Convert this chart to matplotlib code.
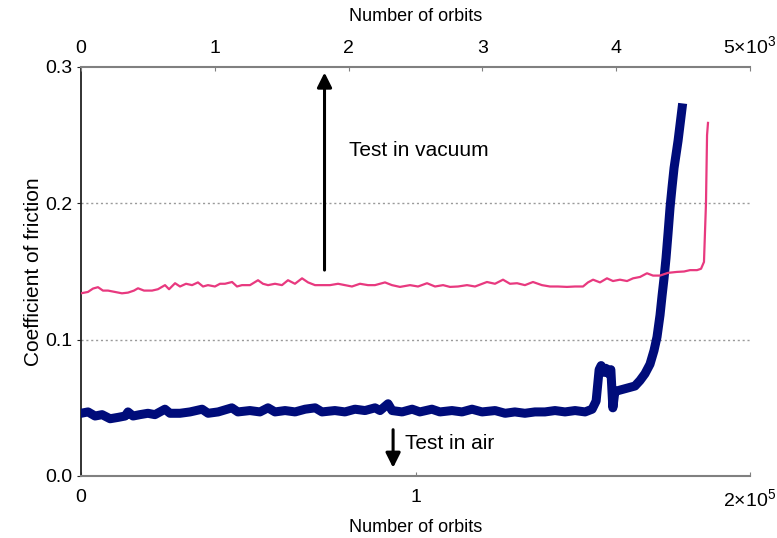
import matplotlib
matplotlib.use("Agg")
import matplotlib.pyplot as plt

plt.rcParams['font.family'] = ['Liberation Sans', 'DejaVu Sans']
plt.rcParams['mathtext.fontset'] = 'custom'
plt.rcParams['mathtext.rm'] = 'Liberation Sans'
plt.rcParams['mathtext.it'] = 'Liberation Sans'

# Test in air (bottom axis: number of orbits)
air_orbits = [0, 2100, 4200, 6300, 8700, 11100, 13200, 14050, 15550, 17600,
              20000, 22100, 25100, 26600, 29600, 32600, 36200, 38000, 41000,
              45100, 46900, 50500, 53500, 55900, 58000, 61000, 64000, 67000,
              70000, 72050, 75900, 78900, 81900, 84900, 87900, 89400, 91800,
              93000, 96000, 99000, 101300, 104900, 107300, 110900, 113900,
              116900, 119900, 123800, 126800, 129700, 132700, 135700, 138700,
              141700, 144700, 147700, 150700, 152800, 154000, 154900, 155500,
              156400, 156900, 157800, 158400, 159000, 159600, 161100, 162600,
              164100, 165600, 167100, 168600, 170100, 171300, 172200, 173100,
              173700, 174300, 174900, 175500, 176100, 176700, 177300, 177900,
              178500, 179100, 179700]
air_cof = [0.046, 0.047, 0.044, 0.045, 0.042, 0.043, 0.044, 0.047, 0.044, 0.045,
           0.046, 0.045, 0.049, 0.046, 0.046, 0.047, 0.049, 0.046, 0.047,
           0.050, 0.047, 0.048, 0.047, 0.050, 0.047, 0.048, 0.047, 0.049,
           0.050, 0.047, 0.048, 0.047, 0.049, 0.048, 0.050, 0.048, 0.053,
           0.048, 0.047, 0.049, 0.047, 0.049, 0.047, 0.048, 0.047,
           0.049, 0.047, 0.048, 0.046, 0.047, 0.046, 0.047, 0.047,
           0.048, 0.047, 0.048, 0.047, 0.049, 0.055, 0.078, 0.081,
           0.076, 0.079, 0.075, 0.078, 0.050, 0.062, 0.063, 0.064,
           0.065, 0.066, 0.070, 0.075, 0.082, 0.092, 0.102, 0.118,
           0.132, 0.145, 0.160, 0.178, 0.197, 0.212, 0.226, 0.236,
           0.246, 0.258, 0.270]

# Test in vacuum (top axis: thousands of orbits)
vac_orbits_k = [0.0, 0.052, 0.090, 0.127, 0.164, 0.202, 0.254, 0.306, 0.351,
                0.396, 0.426, 0.471, 0.531, 0.575, 0.628, 0.658, 0.703, 0.740,
                0.785, 0.830, 0.874, 0.912, 0.949, 1.001, 1.039, 1.076, 1.129,
                1.166, 1.203, 1.263, 1.323, 1.360, 1.398, 1.450, 1.502, 1.547,
                1.599, 1.652, 1.697, 1.749, 1.801, 1.861, 1.921, 1.973, 2.025,
                2.085, 2.145, 2.197, 2.272, 2.324, 2.384, 2.459, 2.519, 2.586,
                2.646, 2.706, 2.758, 2.818, 2.885, 2.945, 3.034, 3.094, 3.154,
                3.206, 3.259, 3.318, 3.378, 3.445, 3.505, 3.565, 3.632, 3.692,
                3.752, 3.789, 3.827, 3.879, 3.931, 3.976, 4.028, 4.081, 4.126,
                4.178, 4.230, 4.275, 4.327, 4.387, 4.454, 4.507, 4.552, 4.604,
                4.634, 4.656, 4.671, 4.679, 4.686]
vac_cof = [0.134, 0.135, 0.1375, 0.1385, 0.136, 0.136, 0.135, 0.134, 0.1345,
           0.136, 0.1377, 0.136, 0.136, 0.137, 0.140, 0.137, 0.1414, 0.139,
           0.141, 0.140, 0.142, 0.139, 0.140, 0.139, 0.141, 0.141, 0.1423,
           0.139, 0.140, 0.140, 0.1436, 0.141, 0.140, 0.141, 0.140, 0.1436,
           0.141, 0.145, 0.142, 0.140, 0.140, 0.140, 0.141, 0.140, 0.139,
           0.141, 0.140, 0.140, 0.142, 0.140, 0.1387, 0.140, 0.139, 0.1414,
           0.139, 0.140, 0.1387, 0.139, 0.140, 0.139, 0.1423, 0.141, 0.144,
           0.141, 0.1414, 0.140, 0.1423, 0.140, 0.139, 0.139, 0.1387, 0.139,
           0.139, 0.142, 0.144, 0.142, 0.145, 0.143, 0.144, 0.143, 0.145,
           0.146, 0.1487, 0.147, 0.147, 0.149, 0.1497, 0.150, 0.151, 0.151,
           0.152, 0.157, 0.200, 0.250, 0.259]

y_ticks = [0.0, 0.1, 0.2, 0.3]
y_labels = ['0.0', '0.1', '0.2', '0.3']
bottom_ticks = [0, 100000, 200000]
bottom_labels = ['0', '1', r'2×10$^{5}$']
top_ticks = [0, 1, 2, 3, 4, 5]
top_labels = ['0', '1', '2', '3', '4', r'5×10$^{3}$']

fig = plt.figure(figsize=(7.77, 5.38), dpi=100)
ax = fig.add_axes([81/777, 1-476/538, 669/777, 409/538])

gray = '#808080'
tfs = 14
lfs = 13

ax.set_xlim(0, 200000)
ax.set_ylim(0, 0.3)
for yv in [0.1, 0.2]:
    ax.axhline(yv, color='#9a9a9a', lw=1.0, ls=(0, (1.5, 2)), zorder=1)

ax.plot(air_orbits, air_cof, color='#000c7a', lw=6.5, solid_joinstyle='round', zorder=3)

ax.set_xticks(bottom_ticks)
ax.set_xticklabels(bottom_labels, fontsize=tfs)
ax.set_yticks(y_ticks)
ax.set_yticklabels(y_labels, fontsize=tfs)
ax.set_xlabel('Number of orbits', fontsize=lfs, labelpad=6)
ax.set_ylabel('Coefficient of friction', fontsize=15, labelpad=2)
ax.spines['right'].set_visible(False)
ax.spines['top'].set_visible(False)
ax.spines['left'].set_color('#222222')
ax.spines['left'].set_linewidth(1.3)
ax.spines['bottom'].set_color(gray)
ax.spines['bottom'].set_linewidth(1.5)
ax.tick_params(axis='x', direction='in', length=3, color=gray, pad=9)
ax.tick_params(axis='y', direction='out', length=3, color='#222222', pad=3)

ax2 = ax.twiny()
ax2.set_xlim(0, 5)
ax2.plot(vac_orbits_k, vac_cof, color='#e8397f', lw=1.6, zorder=4)
ax2.set_xticks(top_ticks)
ax2.set_xticklabels(top_labels, fontsize=tfs)
ax2.set_xlabel('Number of orbits', fontsize=lfs, labelpad=10)
ax2.spines['right'].set_visible(False)
ax2.spines['left'].set_visible(False)
ax2.spines['bottom'].set_visible(False)
ax2.spines['top'].set_color(gray)
ax2.spines['top'].set_linewidth(1.5)
ax2.tick_params(axis='x', direction='in', length=3, color=gray, pad=7)

ax.annotate('', xy=(72800, 0.298), xytext=(72800, 0.149),
            arrowprops=dict(arrowstyle='-|>', color='black', lw=2.2, mutation_scale=22),
            zorder=5)
ax.text(80000, 0.239, 'Test in vacuum', fontsize=15, va='center', ha='left')
ax.annotate('', xy=(93300, 0.004), xytext=(93300, 0.036),
            arrowprops=dict(arrowstyle='-|>', color='black', lw=2.2, mutation_scale=22),
            zorder=5)
ax.text(97000, 0.024, 'Test in air', fontsize=15, va='center', ha='left')

fig.savefig('out.png', dpi=100)
